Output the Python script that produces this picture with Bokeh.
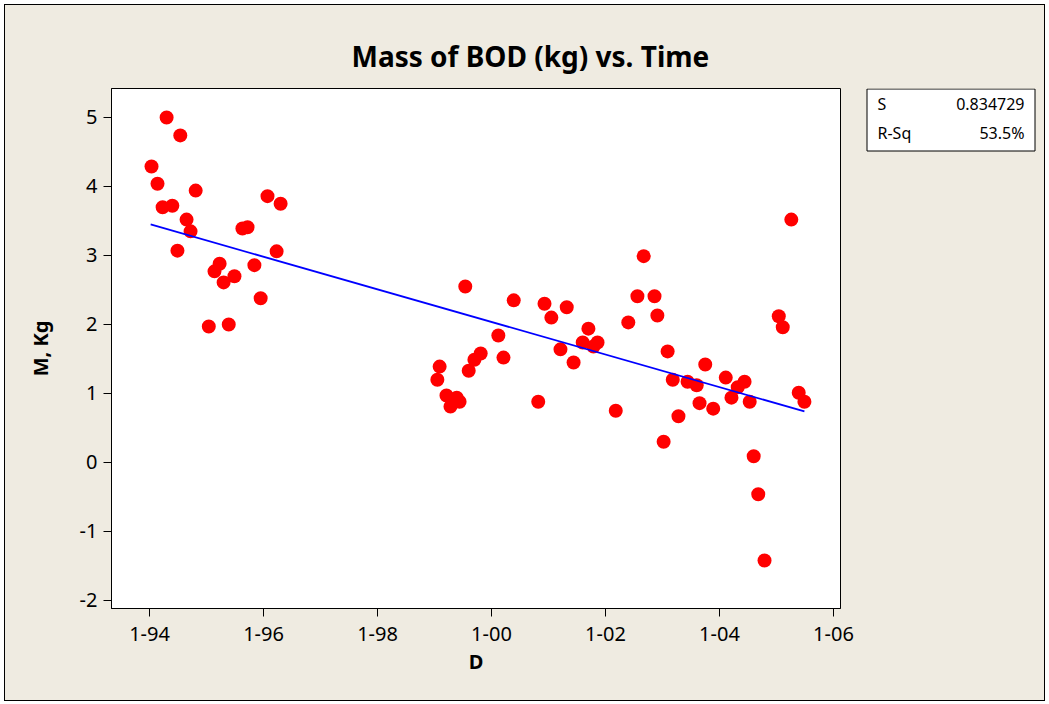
from bokeh.plotting import figure
from bokeh.models import Range1d, FixedTicker, Label, BoxAnnotation
from bokeh.layouts import row
from bokeh.embed import file_html
from bokeh.resources import INLINE

# ---- data (decimal year, mass of BOD in kg) ----
date_early = [1994.035, 1994.14, 1994.23, 1994.30, 1994.40, 1994.49, 1994.54, 1994.65,
              1994.72, 1994.81, 1995.04, 1995.14, 1995.23, 1995.30, 1995.39, 1995.49,
              1995.63, 1995.72, 1995.84, 1995.95, 1996.07, 1996.23, 1996.30]
mass_early = [4.29, 4.04, 3.70, 5.00, 3.72, 3.07, 4.74, 3.52,
              3.35, 3.94, 1.97, 2.77, 2.88, 2.61, 2.00, 2.70,
              3.39, 3.41, 2.86, 2.38, 3.86, 3.06, 3.75]

date_late = [1999.05, 1999.09, 1999.21, 1999.28, 1999.39, 1999.44, 1999.54, 1999.60,
             1999.70, 1999.81, 2000.12, 2000.21, 2000.39, 2000.82, 2000.93, 2001.05,
             2001.21, 2001.32, 2001.44, 2001.60, 2001.70, 2001.79, 2001.86, 2002.18,
             2002.40, 2002.56, 2002.67, 2002.86, 2002.91, 2003.02, 2003.09, 2003.18,
             2003.28, 2003.44, 2003.60, 2003.65, 2003.75, 2003.89, 2004.11, 2004.21,
             2004.32, 2004.44, 2004.53, 2004.60, 2004.68, 2004.79, 2005.04, 2005.11,
             2005.26, 2005.39, 2005.49]
mass_late = [1.20, 1.39, 0.97, 0.81, 0.94, 0.88, 2.55, 1.33,
             1.49, 1.58, 1.84, 1.52, 2.35, 0.88, 2.30, 2.10,
             1.64, 2.25, 1.45, 1.74, 1.94, 1.68, 1.74, 0.75,
             2.03, 2.41, 2.99, 2.41, 2.13, 0.30, 1.61, 1.20,
             0.67, 1.17, 1.12, 0.86, 1.42, 0.78, 1.23, 0.94,
             1.09, 1.17, 0.88, 0.09, -0.46, -1.42, 2.12, 1.96,
             3.52, 1.01, 0.88]

dates = date_early + date_late
mass = mass_early + mass_late

# fitted regression line
fit_x = [1994.02, 2005.49]
fit_y = [3.45, 0.74]

x_ticks = [1994, 1996, 1998, 2000, 2002, 2004, 2006]
x_tick_labels = ["1-94", "1-96", "1-98", "1-00", "1-02", "1-04", "1-06"]
y_ticks = [-2, -1, 0, 1, 2, 3, 4, 5]
y_tick_labels = ["-2", "-1", "0", "1", "2", "3", "4", "5"]

stat_names = ["S", "R-Sq"]
stat_values = ["0.834729", "53.5%"]

title_text = "Mass of BOD (kg) vs. Time"

FONT = "Noto Sans"
BG = "#EFEBE1"
H = 695
TOP = 83
BOTTOM = 92

p = figure(width=855, height=H,
           x_range=Range1d(1993.333, 2006.123),
           y_range=Range1d(-2.116, 5.420),
           output_backend="svg", toolbar_location=None,
           min_border_left=106, min_border_right=20,
           min_border_top=TOP, min_border_bottom=BOTTOM)

p.background_fill_color = "white"
p.border_fill_color = BG
p.outline_line_color = "black"
p.outline_line_width = 1
p.grid.visible = False

p.title.text = title_text
p.title.align = "left"
p.title.offset = 240
p.title.standoff = 27
p.title.text_font = FONT
p.title.text_font_size = "28px"
p.title.text_font_style = "bold"
p.title.text_color = "black"

# axes
p.xaxis.ticker = FixedTicker(ticks=x_ticks)
p.xaxis.major_label_overrides = {float(t): l for t, l in zip(x_ticks, x_tick_labels)}
p.yaxis.ticker = FixedTicker(ticks=y_ticks)
p.yaxis.major_label_overrides = {float(t): l for t, l in zip(y_ticks, y_tick_labels)}
for ax in (p.xaxis, p.yaxis):
    ax.axis_line_color = "black"
    ax.axis_line_width = 1
    ax.major_tick_line_color = "black"
    ax.major_tick_line_width = 1
    ax.major_tick_out = 8
    ax.major_tick_in = 0
    ax.minor_tick_line_color = None
    ax.major_label_text_font = FONT
    ax.major_label_text_font_size = "20px"
    ax.major_label_text_color = "black"
    ax.axis_label_text_font = FONT
    ax.axis_label_text_font_size = "20px"
    ax.axis_label_text_font_style = "bold"
    ax.axis_label_text_color = "black"
p.xaxis.axis_label = "D"
p.yaxis.axis_label = "M, Kg"
p.xaxis.major_label_standoff = 10
p.yaxis.major_label_standoff = 6
p.xaxis.axis_label_standoff = 4
p.yaxis.axis_label_standoff = 23

# data
p.scatter(dates, mass, size=14, marker="circle", fill_color="#FF0000",
          line_color="#FF0000", line_width=0)
p.line(fit_x, fit_y, line_color="#0000FF", line_width=1.8)

# stats box: companion panel whose (invisible) frame is aligned with the main frame,
# ranges in pixel-like units so the box sits at the top
p2 = figure(width=184, height=H, x_range=Range1d(-6, 178), y_range=Range1d(520, 0),
            x_axis_type=None, y_axis_type=None,
            output_backend="svg", toolbar_location=None,
            min_border_left=0, min_border_right=0,
            min_border_top=TOP, min_border_bottom=BOTTOM)
p2.background_fill_color = BG
p2.border_fill_color = BG
p2.outline_line_color = None
p2.grid.visible = False
p2.add_layout(BoxAnnotation(left=0.5, right=168.5, top=0.5, bottom=62.5,
                            fill_color="white", fill_alpha=1.0,
                            line_color="black", line_alpha=1.0, line_width=1))
row_y = [15, 44]
for name, val, ry in zip(stat_names, stat_values, row_y):
    p2.add_layout(Label(x=11, y=ry, text=name, text_align="left",
                        text_baseline="middle", text_font=FONT,
                        text_font_size="16px", text_color="black"))
    p2.add_layout(Label(x=158, y=ry, text=val, text_align="right",
                        text_baseline="middle", text_font=FONT,
                        text_font_size="16px", text_color="black"))

layout = row(p, p2, spacing=0)
layout.styles = {"border": "1px solid black", "margin": "4px", "background-color": BG}

open("out.html", "w").write(file_html(layout, INLINE))
